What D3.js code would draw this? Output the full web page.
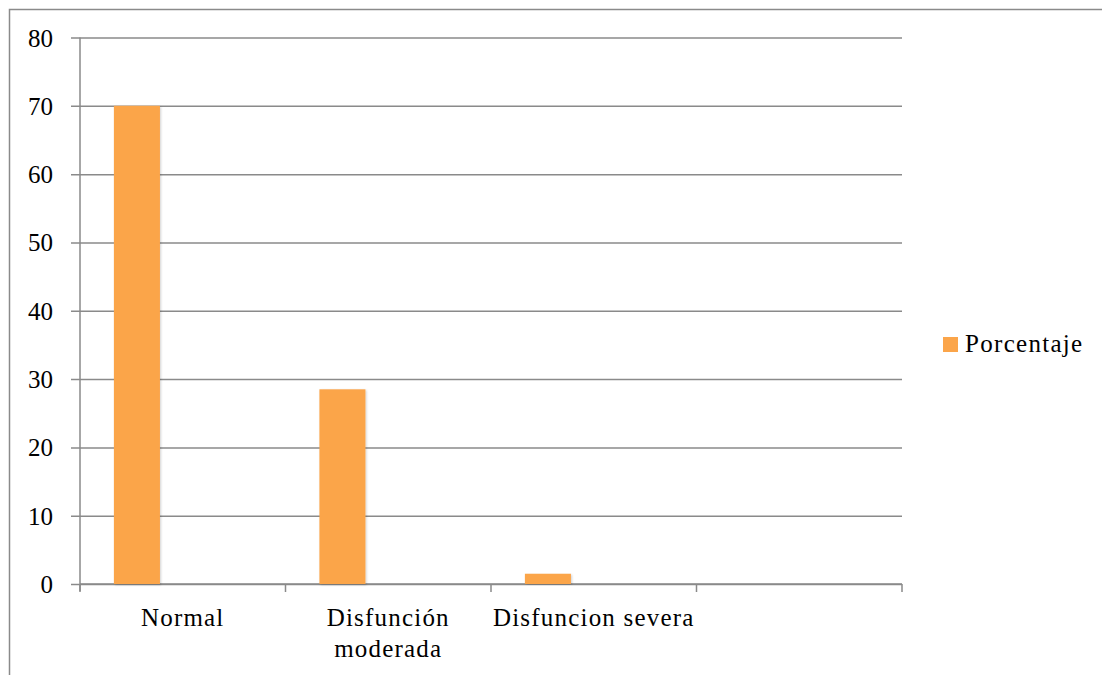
<!DOCTYPE html>
<html>
<head>
<meta charset="utf-8">
<script src="https://cdn.jsdelivr.net/npm/d3@7"></script>
<style>
  html, body { margin: 0; padding: 0; background: #fff; }
  svg { display: block; }
</style>
</head>
<body>
<svg id="chart" width="1102" height="675"></svg>
<script>
// Chart data
const categories = ["Normal", "Disfunción moderada", "Disfuncion severa", ""];
const porcentaje = [70, 28.5, 1.5, null];
const seriesName = "Porcentaje";
const yTicks = [0, 10, 20, 30, 40, 50, 60, 70, 80];

const W = 1102, H = 675;
const plot = { left: 80, right: 902, top: 37.5, bottom: 584 };
const gridColor = "#8a8a8a";
const barColor = "#fba54a";
const serif = "Liberation Serif";

const svg = d3.select("#chart");

// Outer chart frame (runs off the right and bottom edges)
svg.append("rect")
  .attr("x", 9.5).attr("y", 9.5)
  .attr("width", W + 20).attr("height", H + 20)
  .attr("fill", "none").attr("stroke", gridColor).attr("stroke-width", 1.5);

const x = d3.scaleBand().domain(categories).range([plot.left, plot.right]).paddingInner(0).paddingOuter(0);
const y = d3.scaleLinear().domain([0, 80]).range([plot.bottom, plot.top]);

// Horizontal gridlines with left tick marks and labels
const yAxis = svg.append("g").attr("transform", `translate(${plot.left},0)`)
  .call(d3.axisLeft(y).tickValues(yTicks).tickSize(9).tickSizeOuter(0).tickFormat(d3.format("d")));
yAxis.attr("font-family", serif).attr("font-size", 25);
yAxis.select(".domain").attr("stroke", gridColor).attr("stroke-width", 1.5)
  .attr("d", `M0,${plot.top}V${plot.bottom + 7}`);
yAxis.selectAll(".tick line").attr("stroke", gridColor).attr("stroke-width", 1.5)
  .attr("x1", -9).attr("x2", plot.right - plot.left);
yAxis.selectAll(".tick text")
  .attr("x", -27).attr("dy", "0.34em").attr("fill", "#000")
  .attr("font-family", serif);

// Category axis
const xAxis = svg.append("g").attr("transform", `translate(0,${plot.bottom})`)
  .attr("font-family", serif).attr("font-size", 25);
xAxis.append("line")
  .attr("x1", plot.left).attr("x2", plot.right)
  .attr("stroke", gridColor).attr("stroke-width", 1.5);
const bounds = categories.map(c => x(c)).concat([plot.right]);
xAxis.selectAll("line.cat-tick").data(bounds).join("line")
  .attr("class", "cat-tick")
  .attr("x1", d => d).attr("x2", d => d)
  .attr("y1", 0).attr("y2", 8)
  .attr("stroke", gridColor).attr("stroke-width", 1.5);

// Category labels (wrapped onto two lines where needed)
const labelLines = { "Disfunción moderada": ["Disfunción", "moderada"] };
categories.forEach(c => {
  if (!c) return;
  const lines = labelLines[c] || [c];
  const t = xAxis.append("text")
    .attr("text-anchor", "middle")
    .attr("font-family", serif).attr("fill", "#000")
    .attr("letter-spacing", "1.2");
  lines.forEach((ln, i) => {
    t.append("tspan").attr("x", x(c) + x.bandwidth() / 2).attr("y", 42 + i * 31).text(ln);
  });
});

// Bars: one series placed in the first of three cluster slots
const slotPad = 0.165, barFrac = 0.224;
const shadow = svg.append("defs").append("filter").attr("id", "shadow")
  .attr("x", "-20%").attr("y", "-5%").attr("width", "140%").attr("height", "110%");
shadow.append("feDropShadow").attr("dx", 1).attr("dy", 1).attr("stdDeviation", 1.2)
  .attr("flood-color", "#000").attr("flood-opacity", 0.18);

svg.append("g").selectAll("rect")
  .data(categories.map((c, i) => ({ c, v: porcentaje[i] })).filter(d => d.v != null))
  .join("rect")
  .attr("x", d => x(d.c) + x.bandwidth() * slotPad)
  .attr("width", x.bandwidth() * barFrac)
  .attr("y", d => y(d.v))
  .attr("height", d => y(0) - y(d.v))
  .attr("fill", barColor)
  .attr("filter", "url(#shadow)");

// Legend
const legend = svg.append("g").attr("transform", "translate(943,337)");
legend.append("rect").attr("width", 15).attr("height", 15).attr("fill", barColor);
legend.append("text").attr("x", 22).attr("y", 15)
  .attr("font-family", serif).attr("font-size", 25).attr("fill", "#000")
  .attr("letter-spacing", "1.3").text(seriesName);
</script>
</body>
</html>
